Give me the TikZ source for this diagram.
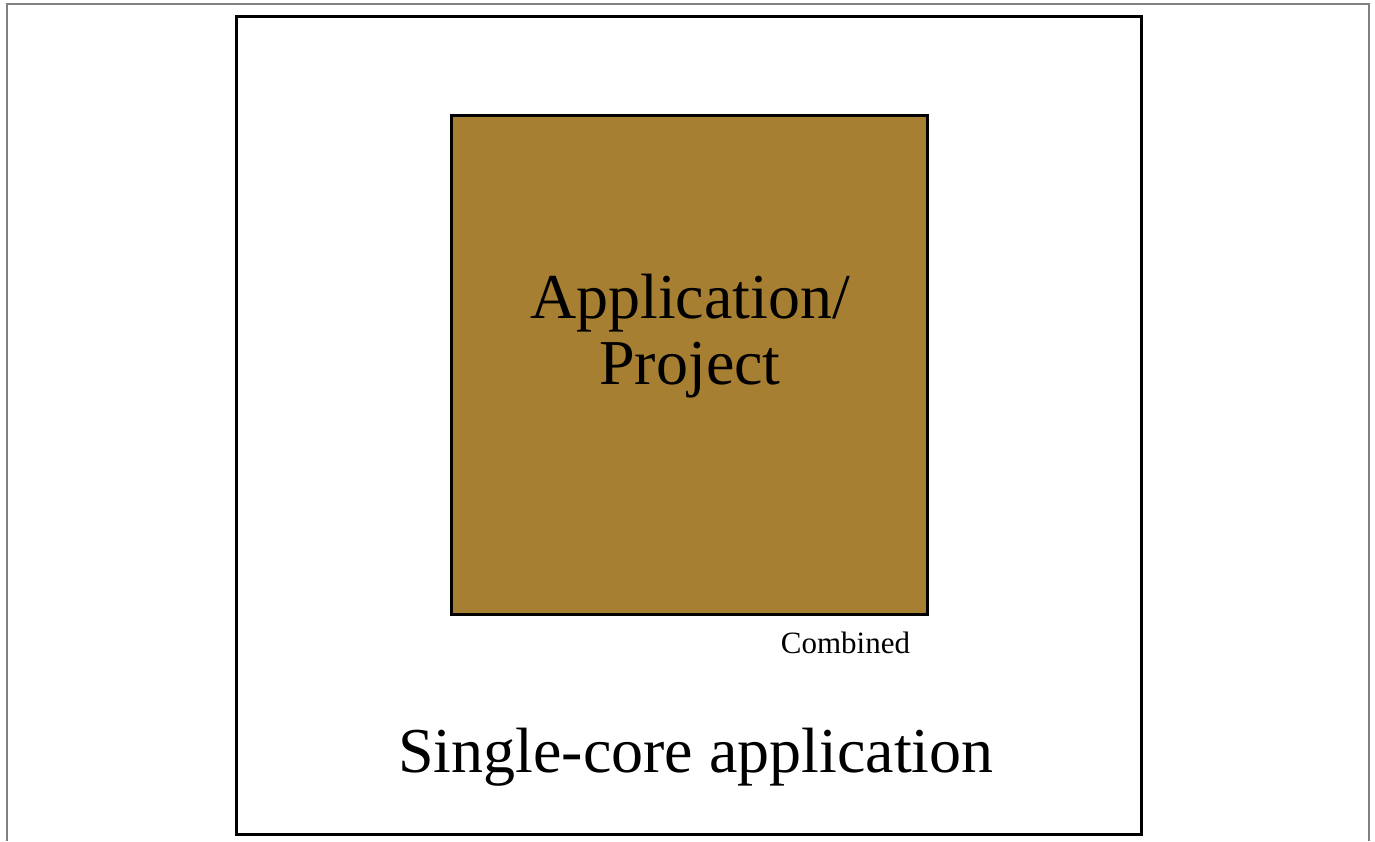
\documentclass[tikz,border=0pt]{standalone}
\usepackage{fontspec}
\setmainfont{Liberation Serif}
\usetikzlibrary{positioning}
\definecolor{appbrown}{RGB}{167,127,51}
\definecolor{framegray}{RGB}{128,128,128}
\begin{document}
\begin{tikzpicture}[x=1pt, y=-1pt, line width=3pt]
    \useasboundingbox (0,0) rectangle (1375,841);
    %----------------------
    % PAGE FRAME (open at the bottom)
    %----------------------
    \draw[framegray, line width=1.5pt] (7,841) -- (7,4) -- (1369,4) -- (1369,841);

    %----------------------
    % OUTER BOX
    %----------------------
    \draw (236,16) rectangle (1141,834);

    %----------------------
    % APPLICATION BLOCK
    %----------------------
    \node[draw, fill=appbrown, minimum width=476pt, minimum height=499pt,
          inner sep=0pt] (app) at (689,364.5) {};
    \node[font=\fontsize{64}{66}\selectfont, align=center] (apptext) at (690,336)
        {Application/\\Project};

    % small label under the block
    \node[font=\fontsize{31}{36}\selectfont, anchor=north east, inner sep=0pt]
        (combined) at ([xshift=-17pt, yshift=-15pt]app.south east) {Combined};

    %----------------------
    % CAPTION
    %----------------------
    \node[font=\fontsize{64}{70}\selectfont] (caption) at (696,757)
        {Single-core application};
\end{tikzpicture}
\end{document}
